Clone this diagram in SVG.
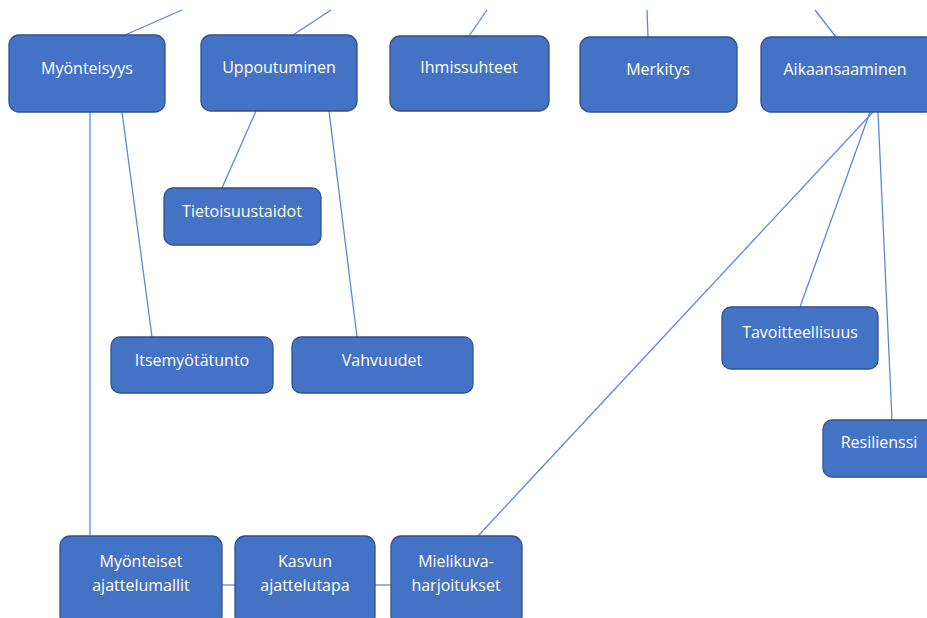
<svg xmlns="http://www.w3.org/2000/svg" width="927" height="618" viewBox="0 0 927 618">
<style>
.n{fill:#4472C4;stroke:#2F528F;stroke-width:1.3}
.t{fill:#fff;font-family:"Open Sans","Noto Sans",sans-serif;font-size:16px;text-anchor:middle}
.c line{stroke:#5B87D6;stroke-width:1.3}
</style>
<rect width="927" height="618" fill="#fff"/>
<g class="c" id="connectors">
<line x1="125" y1="35" x2="182" y2="10"/>
<line x1="293" y1="35" x2="331" y2="10"/>
<line x1="469" y1="36" x2="487" y2="10"/>
<line x1="648" y1="37" x2="647" y2="10"/>
<line x1="836" y1="37" x2="815" y2="10"/>
<line x1="90" y1="112" x2="90" y2="537"/>
<line x1="122" y1="112" x2="152" y2="337"/>
<line x1="256" y1="111" x2="222" y2="188"/>
<line x1="329" y1="111" x2="357" y2="337"/>
<line x1="873" y1="112" x2="478" y2="536"/>
<line x1="870" y1="112" x2="800" y2="307"/>
<line x1="878" y1="112" x2="892" y2="420"/>
<line x1="222" y1="585" x2="235" y2="585"/>
<line x1="375" y1="585" x2="391" y2="585"/>
</g>
<g id="myonteisyys"><rect class="n" x="9" y="35" width="156" height="77" rx="10"/><text class="t" x="87" y="74">Myönteisyys</text></g>
<g id="uppoutuminen"><rect class="n" x="201" y="35" width="156" height="76" rx="10"/><text class="t" x="279" y="73">Uppoutuminen</text></g>
<g id="ihmissuhteet"><rect class="n" x="390" y="36" width="159" height="75" rx="10"/><text class="t" x="469" y="73">Ihmissuhteet</text></g>
<g id="merkitys"><rect class="n" x="580" y="37" width="157" height="75" rx="10"/><text class="t" x="658" y="75">Merkitys</text></g>
<g id="aikaansaaminen"><rect class="n" x="761" y="37" width="175" height="75" rx="10"/><text class="t" x="845" y="75">Aikaansaaminen</text></g>
<g id="tietoisuustaidot"><rect class="n" x="164" y="188" width="157" height="57" rx="9"/><text class="t" x="242" y="217">Tietoisuustaidot</text></g>
<g id="itsemyotatunto"><rect class="n" x="111" y="337" width="162" height="56" rx="9"/><text class="t" x="192" y="366">Itsemyötätunto</text></g>
<g id="vahvuudet"><rect class="n" x="292" y="337" width="181" height="56" rx="9"/><text class="t" x="382" y="366">Vahvuudet</text></g>
<g id="tavoitteellisuus"><rect class="n" x="722" y="307" width="156" height="62" rx="9"/><text class="t" x="800" y="338">Tavoitteellisuus</text></g>
<g id="resilienssi"><rect class="n" x="823" y="420" width="120" height="57" rx="9"/><text class="t" x="879" y="448">Resilienssi</text></g>
<g id="myonteiset-ajattelumallit"><rect class="n" x="60" y="536" width="162" height="90" rx="10"/><text class="t" x="141" y="567">Myönteiset</text><text class="t" x="141" y="591">ajattelumallit</text></g>
<g id="kasvun-ajattelutapa"><rect class="n" x="235" y="536" width="140" height="90" rx="10"/><text class="t" x="305" y="567">Kasvun</text><text class="t" x="305" y="591">ajattelutapa</text></g>
<g id="mielikuvaharjoitukset"><rect class="n" x="391" y="536" width="131" height="90" rx="10"/><text class="t" x="456" y="567">Mielikuva-</text><text class="t" x="456" y="591">harjoitukset</text></g>
</svg>
